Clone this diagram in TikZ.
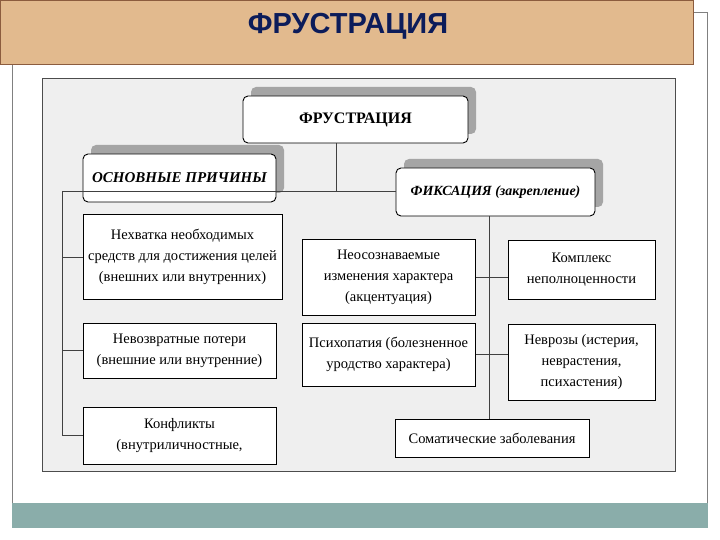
\documentclass[tikz,border=0pt]{standalone}
\usepackage{fontspec}
\setmainfont{Liberation Serif}
\newfontfamily\headfont{Liberation Sans}
\usetikzlibrary{shadows,positioning,calc}
\definecolor{BannerTan}{RGB}{226,186,142}
\definecolor{BannerEdge}{RGB}{140,92,62}
\definecolor{TitleNavy}{RGB}{12,28,90}
\definecolor{FrameGray}{RGB}{128,128,128}
\definecolor{FooterTeal}{RGB}{138,173,170}
\definecolor{PanelGray}{RGB}{239,239,239}
\definecolor{ShadeGray}{RGB}{165,165,165}
\tikzset{
  hbox/.style={draw=black,fill=white,rounded corners=5pt,line width=0.9pt,
               align=center,inner sep=0pt,
               drop shadow={shadow xshift=8pt,shadow yshift=9pt,fill=ShadeGray,opacity=1}},
  cbox/.style={draw=black,fill=white,line width=1pt,align=center,inner sep=0pt,
               font=\fontsize{14.5}{21}\selectfont,
               drop shadow={shadow xshift=1.2pt,shadow yshift=-1.2pt,fill=ShadeGray,opacity=1}},
  link/.style={draw=black!75,line width=0.9pt},
}

\begin{document}
\begin{tikzpicture}[x=1pt,y=-1pt]
  \useasboundingbox (0,0) rectangle (720,540);

  % slide frame, banner and footer
  \draw[FrameGray,line width=0.8pt] (12,64) -- (12,503);
  \draw[FrameGray,line width=0.8pt] (693,12) -- (707,12) -- (707,503);
  \fill[FooterTeal] (12,503) rectangle (708,528);
  \draw[BannerEdge,fill=BannerTan,line width=0.9pt] (0,0) rectangle (693,64);
  \node[font=\headfont\bfseries\fontsize{29}{31}\selectfont,text=TitleNavy] (title) at (348,26) {ФРУСТРАЦИЯ};

  % picture panel
  \draw[black!70,fill=PanelGray,line width=0.9pt] (42,78) rectangle (675,471);

  \node[hbox,minimum width=225pt,minimum height=47pt,font=\bfseries\fontsize{16}{18}\selectfont] (frust) at (355.5,119.5) {ФРУСТРАЦИЯ};
  \node[hbox,minimum width=193pt,minimum height=48pt,font=\bfseries\itshape\fontsize{15}{17}\selectfont] (causes) at (179.5,178) {ОСНОВНЫЕ ПРИЧИНЫ};
  \node[hbox,minimum width=199pt,minimum height=48pt,font=\bfseries\itshape\fontsize{14}{16}\selectfont] (fix) at (495.5,192) {ФИКСАЦИЯ (закрепление)};

  \node[cbox,minimum width=199pt,minimum height=84pt] (lack) at (182.5,257) {Нехватка необходимых\\средств для достижения целей\\(внешних или внутренних)};
  \node[cbox,minimum width=193pt,minimum height=55pt] (loss) at (179.5,350.5) {Невозвратные потери\\(внешние или внутренние)};
  \node[cbox,minimum width=193pt,minimum height=57pt] (confl) at (179.5,435.5) {Конфликты\\(внутриличностные,};

  \node[cbox,minimum width=173pt,minimum height=76pt] (accent) at (388.5,277) {Неосознаваемые\\изменения характера\\(акцентуация)};
  \node[cbox,minimum width=173pt,minimum height=63pt] (psycho) at (388.5,354.5) {Психопатия (болезненное\\уродство характера)};
  \node[cbox,minimum width=147pt,minimum height=59pt] (inferior) at (581.5,269.5) {Комплекс\\неполноценности};
  \node[cbox,minimum width=147pt,minimum height=76pt] (neuro) at (581.5,362) {Неврозы (истерия,\\неврастения,\\психастения)};
  \node[cbox,minimum width=194pt,minimum height=38pt] (soma) at (492,438) {Соматические заболевания};

  \coordinate (hub) at (336,191);
  \coordinate (lbus) at (62,191);
  \coordinate (rbus) at (489,216);

  \draw[link] (hub |- frust.south) -- (hub);
  \draw[link] (lbus) -- (lbus -| fix.west);
  \draw[link] (lbus) |- (confl.west);
  \draw[link] (lbus |- lack.west) -- (lack.west);
  \draw[link] (lbus |- loss.west) -- (loss.west);

  \draw[link] (rbus |- fix.south) -- (rbus |- soma.north);
  \draw[link] (accent.east) -- (accent.east -| inferior.west);
  \draw[link] (psycho.east) -- (psycho.east -| neuro.west);
\end{tikzpicture}
\end{document}
